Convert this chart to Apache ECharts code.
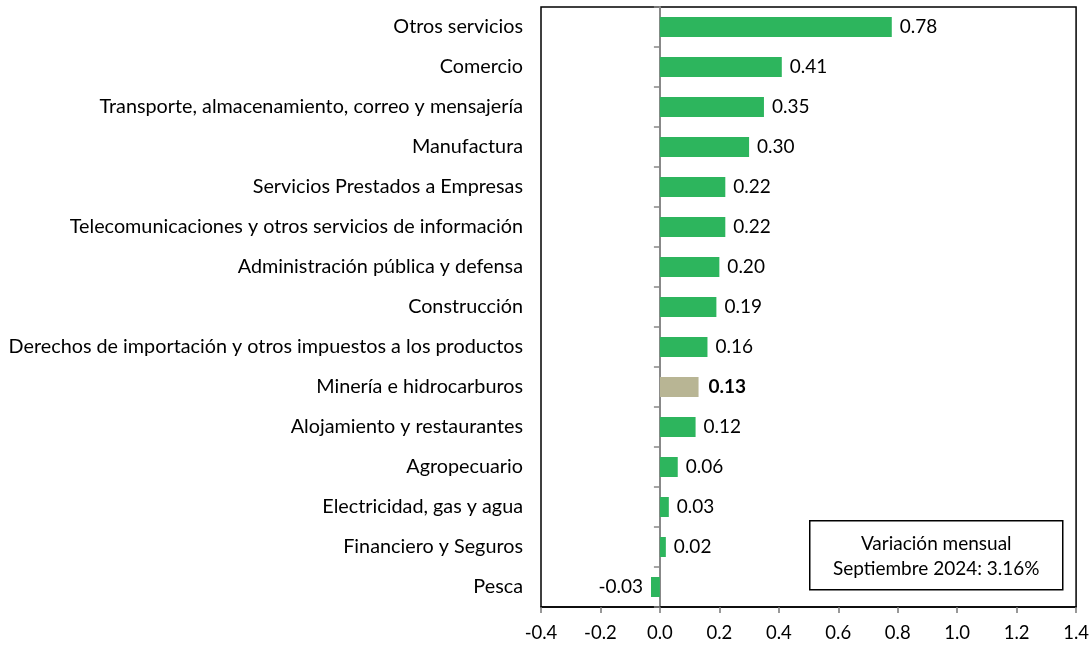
<!DOCTYPE html>
<html>
<head>
<meta charset="utf-8">
<script src="https://cdn.jsdelivr.net/npm/echarts@6/dist/echarts.min.js"></script>
<style>
  html, body { margin: 0; padding: 0; background: #fff; }
  #chart { width: 1092px; height: 646px; }
</style>
</head>
<body>
<div id="chart"></div>
<script>
// sectores, de arriba hacia abajo
const categories = [
  "Otros servicios",
  "Comercio",
  "Transporte, almacenamiento, correo y mensajería",
  "Manufactura",
  "Servicios Prestados a Empresas",
  "Telecomunicaciones y otros servicios de información",
  "Administración pública y defensa",
  "Construcción",
  "Derechos de importación y otros impuestos a los productos",
  "Minería e hidrocarburos",
  "Alojamiento y restaurantes",
  "Agropecuario",
  "Electricidad, gas y agua",
  "Financiero y Seguros",
  "Pesca"
];
const values = [0.78, 0.41, 0.35, 0.30, 0.22, 0.22, 0.20, 0.19, 0.16, 0.13, 0.12, 0.06, 0.03, 0.02, -0.03];
const highlighted = "Minería e hidrocarburos";
const noteLines = ["Variación mensual", "Septiembre 2024: 3.16%"];

const FONT = "Lato";
const FS = 19;
const GREEN = "#2db55d";
const TAN = "#b8b594";

const seriesData = values.map(function (v, i) {
  const isHi = categories[i] === highlighted;
  return {
    value: v,
    itemStyle: { color: isHi ? TAN : GREEN },
    label: {
      position: v < 0 ? "left" : "right",
      fontWeight: isHi ? "bold" : "normal",
      distance: isHi ? 10 : 8
    }
  };
});

const chart = echarts.init(document.getElementById("chart"));
const option = {
  animation: false,
  backgroundColor: "#fff",
  textStyle: { fontFamily: FONT },
  grid: {
    left: 541, right: 15, top: 7, bottom: 39,
    show: true, borderColor: "#000", borderWidth: 1.5, backgroundColor: "transparent"
  },
  xAxis: {
    type: "value",
    min: -0.4, max: 1.4, interval: 0.2,
    splitLine: { show: false },
    axisLine: { show: true, lineStyle: { color: "#000", width: 1.5 } },
    axisTick: { show: true, length: 6, lineStyle: { color: "#777", width: 1.5 } },
    axisLabel: {
      color: "#000", fontSize: 18.5, fontFamily: FONT, margin: 17,
      formatter: function (v) { return v.toFixed(1); }
    }
  },
  yAxis: [
    {
      type: "category",
      data: categories,
      inverse: true,
      axisLine: { show: false, onZero: false },
      axisTick: { show: false },
      axisLabel: { color: "#000", fontSize: 19.8, fontFamily: FONT, margin: 18 }
    },
    {
      type: "category",
      data: categories,
      inverse: true,
      position: "left",
      axisLine: { show: true, onZero: true, lineStyle: { color: "#888", width: 2 } },
      axisTick: { show: true, length: 6, lineStyle: { color: "#888", width: 1.5 } },
      axisLabel: { show: false }
    }
  ],
  series: [{
    type: "bar",
    yAxisIndex: 0,
    barWidth: "50%",
    data: seriesData,
    label: {
      show: true,
      color: "#000",
      fontSize: FS,
      fontFamily: FONT,
      formatter: function (p) { return p.value.toFixed(2); }
    }
  }],
  graphic: [{
    type: "group",
    left: 809, top: 520,
    children: [
      {
        type: "rect",
        shape: { x: 0, y: 0, width: 253, height: 69 },
        style: { fill: "#fff", stroke: "#000", lineWidth: 1.5 }
      },
      {
        type: "text",
        x: 126.5, y: 23,
        style: { text: noteLines[0], fill: "#000", font: FS + "px " + FONT, textAlign: "center", textVerticalAlign: "middle" }
      },
      {
        type: "text",
        x: 126.5, y: 48,
        style: { text: noteLines[1], fill: "#000", font: FS + "px " + FONT, textAlign: "center", textVerticalAlign: "middle" }
      }
    ]
  }]
};
chart.setOption(option);
window.onresize = function () { chart.resize(); };
</script>
</body>
</html>
